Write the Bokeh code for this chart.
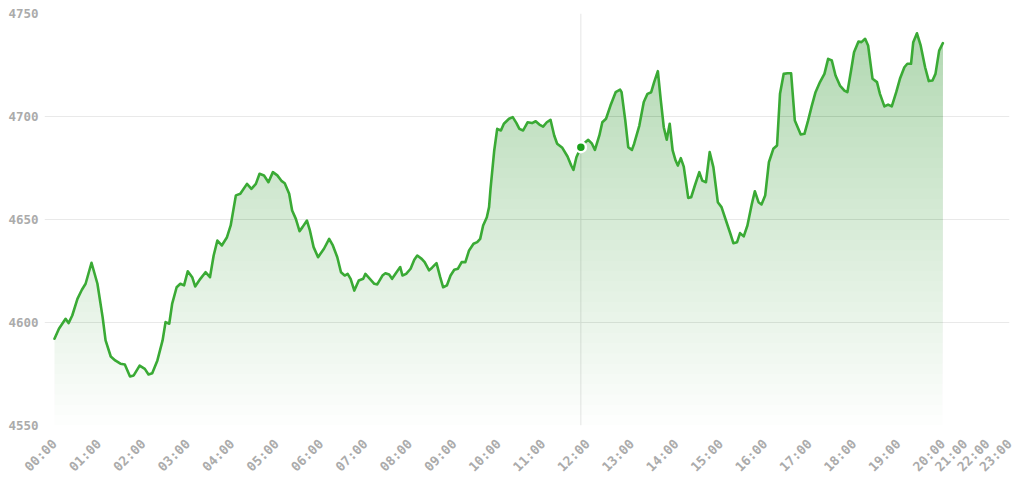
import math
import numpy as np
from bokeh.plotting import figure
from bokeh.models import Span, FixedTicker, Range1d
from bokeh.embed import file_html
from bokeh.resources import INLINE

# time of day in minutes since 00:00 and the value read at that time
minutes = [0, 6, 15, 19, 24, 31, 37, 42, 50, 58, 65, 69, 76, 82, 89, 95, 102, 107, 115, 122,
           127, 132, 139, 146, 150, 155, 159, 165, 170, 175, 180, 186, 190, 197, 204, 210, 215, 220, 226, 233,
           238, 245, 251, 260, 266, 272, 277, 283, 289, 295, 301, 307, 311, 317, 321, 326, 331, 335, 341, 345,
           350, 356, 364, 371, 376, 382, 387, 392, 396, 400, 405, 411, 417, 420, 426, 432, 436, 443, 447, 452,
           456, 462, 467, 470, 475, 481, 486, 490, 496, 500, 506, 510, 516, 521, 525, 530, 535, 540, 545, 550,
           555, 560, 566, 571, 575, 579, 584, 587, 589, 594, 598, 603, 607, 614, 619, 624, 628, 633, 639, 645,
           650, 655, 660, 665, 670, 675, 679, 686, 693, 698, 701, 705, 711, 717, 721, 726, 730, 736, 740, 745,
           751, 758, 764, 766, 771, 775, 780, 783, 790, 796, 801, 806, 810, 815, 819, 823, 827, 831, 835, 839,
           842, 846, 850, 856, 860, 865, 871, 875, 880, 885, 890, 896, 901, 907, 913, 917, 922, 926, 931, 936,
           942, 946, 951, 955, 960, 965, 971, 976, 980, 985, 990, 995, 1000, 1008, 1013, 1018, 1023, 1028, 1034, 1040,
           1045, 1050, 1055, 1061, 1067, 1071, 1076, 1080, 1086, 1090, 1095, 1099, 1105, 1111, 1115, 1121, 1126, 1131, 1137, 1142,
           1148, 1152, 1157, 1160, 1165, 1170, 1176, 1181, 1186, 1190, 1195, 1200]
prices = [4592.1, 4597.0, 4601.8, 4599.7, 4603.4, 4611.5, 4615.9, 4618.8, 4629.0, 4618.8, 4602.6, 4591.3, 4583.5, 4581.6, 4580.0, 4579.6, 4573.8, 4574.3, 4579.1, 4577.5,
          4574.8, 4575.4, 4581.6, 4591.3, 4600.2, 4599.4, 4609.2, 4617.1, 4618.8, 4618.0, 4624.9, 4622.0, 4617.5, 4621.2, 4624.4, 4622.0, 4632.5, 4639.8, 4637.4, 4641.4,
          4647.1, 4661.7, 4662.5, 4667.3, 4664.9, 4667.3, 4672.2, 4671.4, 4668.1, 4673.0, 4671.4, 4668.6, 4667.6, 4662.5, 4654.4, 4650.3, 4644.3, 4646.3, 4649.5, 4644.7,
          4636.6, 4631.7, 4635.8, 4640.6, 4637.4, 4631.7, 4624.4, 4622.8, 4623.6, 4621.2, 4615.5, 4620.4, 4621.2, 4623.6, 4621.2, 4618.8, 4618.5, 4622.8, 4623.9, 4623.3,
          4621.2, 4624.4, 4626.9, 4622.8, 4623.6, 4626.1, 4630.5, 4632.5, 4630.9, 4629.3, 4625.3, 4626.6, 4628.8, 4622.0, 4617.1, 4618.0, 4622.8, 4625.6, 4626.1, 4629.3,
          4629.3, 4635.0, 4638.2, 4639.0, 4640.6, 4647.1, 4651.1, 4656.0, 4665.0, 4683.5, 4694.0, 4693.2, 4696.5, 4698.9, 4699.7, 4696.8, 4694.0, 4693.2, 4697.2, 4696.8,
          4697.7, 4696.1, 4695.1, 4697.2, 4698.4, 4690.8, 4686.8, 4684.8, 4680.6, 4676.2, 4674.1, 4680.2, 4685.1, 4687.5, 4688.7, 4686.8, 4683.8, 4690.8, 4697.2, 4698.9,
          4705.3, 4711.8, 4713.0, 4711.8, 4698.1, 4685.1, 4683.8, 4686.8, 4695.6, 4707.0, 4711.0, 4711.8, 4716.7, 4722.0, 4707.8, 4694.8, 4688.7, 4696.5, 4683.5, 4678.6,
          4676.2, 4679.8, 4675.7, 4660.5, 4660.8, 4666.5, 4673.0, 4668.9, 4668.1, 4682.7, 4675.4, 4658.4, 4656.0, 4649.5, 4643.1, 4638.5, 4639.0, 4643.4, 4641.8, 4647.1,
          4657.6, 4663.7, 4658.4, 4657.3, 4661.7, 4677.8, 4684.3, 4685.9, 4711.0, 4720.7, 4721.0, 4721.0, 4698.1, 4691.3, 4691.6, 4698.1, 4705.3, 4711.8, 4716.7, 4720.7,
          4728.0, 4727.2, 4719.9, 4715.0, 4712.6, 4711.8, 4722.3, 4731.2, 4736.4, 4736.1, 4737.7, 4734.5, 4718.3, 4716.7, 4711.0, 4704.9, 4705.8, 4704.9, 4711.8, 4718.3,
          4723.9, 4725.6, 4725.6, 4736.1, 4740.4, 4734.5, 4723.9, 4717.2, 4717.5, 4720.7, 4732.0, 4735.6]
highlight_minute = 711
tick_labels = ["%02d:00" % h for h in range(24)]
y_ticks = [4550, 4600, 4650, 4700, 4750]

GREEN = "#3aaa35"
DOT = "#1aa01a"
LABEL = "#ababab"

x = np.array(minutes, dtype=float) / 60.0
y = np.array(prices, dtype=float)

# tick positions: hours 0..20 evenly, the last three hours compressed
tick_pos = [float(h) if h <= 20 else 20 + (h - 20) * 0.5 for h in range(24)]

p = figure(width=1016, height=483, output_backend="svg", toolbar_location=None,
           x_range=Range1d(-0.225, 21.5), y_range=Range1d(4550, 4750),
           min_border_left=44, min_border_right=7, min_border_top=13, min_border_bottom=58)
p.outline_line_color = None
p.background_fill_color = "white"
p.xgrid.grid_line_color = None
p.ygrid.grid_line_color = "#e9e9e9"
p.ygrid.grid_line_width = 1

# hover crosshair
p.add_layout(Span(location=highlight_minute / 60.0, dimension="height",
                  line_color="#e6e6e6", line_width=1, level="underlay"))

# gradient fill: stacked translucent layers, darker towards the top
base, top, n = 4550.0, 4745.0, 39
levels = np.linspace(base, top, n + 1)[:-1]
step = levels[1] - levels[0]
max_alpha = 0.37
prev = 0.0
for L in levels:
    t = max_alpha * (L + step - base) / (top - base)
    a = 1 - (1 - t) / (1 - prev)
    prev = t
    p.varea(x=x, y1=np.full_like(y, L), y2=np.maximum(y, L), fill_color=GREEN, fill_alpha=a)

p.line(x, y, line_color=GREEN, line_width=2.6, line_join="round", line_cap="round")

hi = minutes.index(highlight_minute)
p.scatter([x[hi]], [y[hi]], size=10, fill_color=DOT, line_color="white", line_width=2.5)

p.xaxis.ticker = FixedTicker(ticks=tick_pos)
p.xaxis.major_label_overrides = {pos: lab for pos, lab in zip(tick_pos, tick_labels)}
p.xaxis.major_label_orientation = math.pi / 4
p.yaxis.ticker = FixedTicker(ticks=y_ticks)

for ax in (p.xaxis, p.yaxis):
    ax.axis_line_color = None
    ax.major_tick_line_color = None
    ax.minor_tick_line_color = None
    ax.major_tick_out = 0
    ax.major_tick_in = 0
    ax.minor_tick_out = 0
    ax.major_label_text_font = "DejaVu Sans Mono"
    ax.major_label_text_font_style = "bold"
    ax.major_label_text_color = LABEL
p.yaxis.major_label_text_font_size = "12.5px"
p.xaxis.major_label_text_font_size = "13px"
p.yaxis.major_label_standoff = 6
p.xaxis.major_label_standoff = 16

open("out.html", "w").write(file_html(p, INLINE))
